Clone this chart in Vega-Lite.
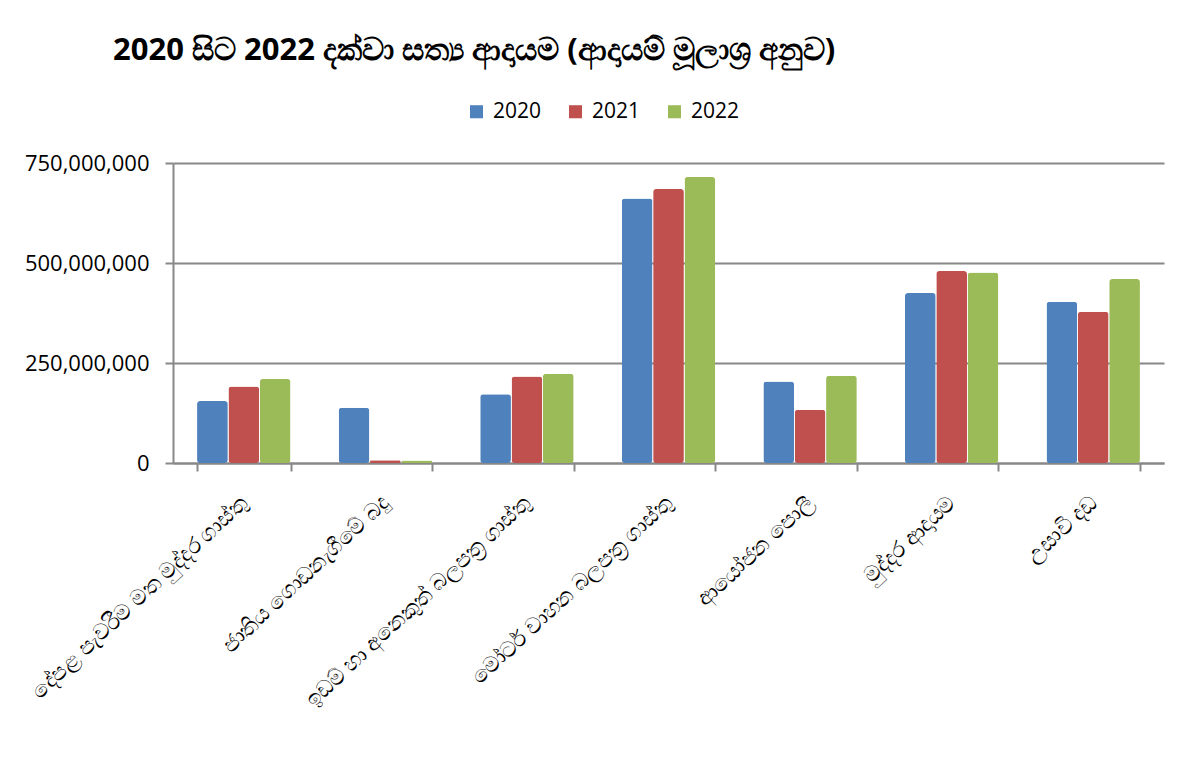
{
  "$schema": "https://vega.github.io/schema/vega-lite/v6.json",
  "width": 991,
  "height": 300,
  "autosize": {"type": "none"},
  "padding": {"left": 173, "top": 163, "right": 21, "bottom": 295},
  "background": "white",
  "title": {
    "text": "2020 සිට 2022 දක්වා සත්‍ය ආදායම (ආදායම් මූලාශ්‍ර අනුව)",
    "anchor": "start",
    "frame": "group",
    "dx": -60,
    "offset": 34,
    "fontSize": 31,
    "fontWeight": "bold",
    "color": "black",
    "font": "Noto Sans"
  },
  "data": {
    "values": [
      {"source": "දේපළ පැවරීම මත මුද්දර ගාස්තු", "year": "2020", "value": 155000000},
      {"source": "දේපළ පැවරීම මත මුද්දර ගාස්තු", "year": "2021", "value": 191000000},
      {"source": "දේපළ පැවරීම මත මුද්දර ගාස්තු", "year": "2022", "value": 210000000},
      {"source": "ජාතිය ගොඩනැගීමේ බදු", "year": "2020", "value": 138000000},
      {"source": "ජාතිය ගොඩනැගීමේ බදු", "year": "2021", "value": 7000000},
      {"source": "ජාතිය ගොඩනැගීමේ බදු", "year": "2022", "value": 6000000},
      {"source": "ඉඩම් හා අනෙකුත් බලපත්‍ර ගාස්තු", "year": "2020", "value": 172000000},
      {"source": "ඉඩම් හා අනෙකුත් බලපත්‍ර ගාස්තු", "year": "2021", "value": 216000000},
      {"source": "ඉඩම් හා අනෙකුත් බලපත්‍ර ගාස්තු", "year": "2022", "value": 223000000},
      {"source": "මෝටර් වාහන බලපත්‍ර ගාස්තු", "year": "2020", "value": 661000000},
      {"source": "මෝටර් වාහන බලපත්‍ර ගාස්තු", "year": "2021", "value": 685000000},
      {"source": "මෝටර් වාහන බලපත්‍ර ගාස්තු", "year": "2022", "value": 715000000},
      {"source": "ආයෝජන පොලී", "year": "2020", "value": 204000000},
      {"source": "ආයෝජන පොලී", "year": "2021", "value": 133000000},
      {"source": "ආයෝජන පොලී", "year": "2022", "value": 218000000},
      {"source": "මුද්දර ආදායම", "year": "2020", "value": 425000000},
      {"source": "මුද්දර ආදායම", "year": "2021", "value": 480000000},
      {"source": "මුද්දර ආදායම", "year": "2022", "value": 476000000},
      {"source": "උසාවි දඩ", "year": "2020", "value": 403000000},
      {"source": "උසාවි දඩ", "year": "2021", "value": 378000000},
      {"source": "උසාවි දඩ", "year": "2022", "value": 460000000}
    ]
  },
  "mark": {"type": "bar", "cornerRadius": 3},
  "encoding": {
    "x": {
      "field": "source",
      "type": "nominal",
      "sort": null,
      "title": null,
      "scale": {"paddingInner": 0.34, "paddingOuter": 0.17},
      "axis": {
        "labelAngle": -43,
        "labelAlign": "right",
        "labelBaseline": "middle",
        "labelFontSize": 22,
        "labelColor": "black",
        "labelPadding": 28,
        "labelLimit": 400,
        "tickBand": "extent",
        "tickSize": 8,
        "tickColor": "#888888",
        "tickWidth": 2,
        "domainColor": "#888888",
        "domainWidth": 2,
        "grid": false
      }
    },
    "xOffset": {"field": "year", "type": "nominal", "scale": {"paddingInner": 0.02}},
    "y": {
      "field": "value",
      "type": "quantitative",
      "title": null,
      "scale": {"domain": [0, 750000000], "nice": false},
      "axis": {
        "values": [0, 250000000, 500000000, 750000000],
        "format": ",d",
        "labelFontSize": 22,
        "labelColor": "black",
        "labelFont": "Open Sans",
        "labelPadding": 16,
        "tickSize": 8,
        "tickColor": "#888888",
        "tickWidth": 2,
        "domainColor": "#888888",
        "domainWidth": 2,
        "gridColor": "#888888",
        "gridWidth": 2
      }
    },
    "color": {
      "field": "year",
      "type": "nominal",
      "title": null,
      "scale": {"domain": ["2020", "2021", "2022"], "range": ["#4F81BD", "#C0504D", "#9BBB59"]},
      "legend": {
        "orient": "none",
        "legendX": 293,
        "legendY": -62,
        "direction": "horizontal",
        "labelFontSize": 21,
        "labelFont": "Open Sans",
        "labelColor": "black",
        "labelOffset": 6,
        "symbolType": "square",
        "symbolSize": 170,
        "symbolStrokeWidth": 0,
        "columnPadding": 23
      }
    }
  },
  "config": {
    "view": {"stroke": null},
    "font": "Noto Sans"
  }
}
